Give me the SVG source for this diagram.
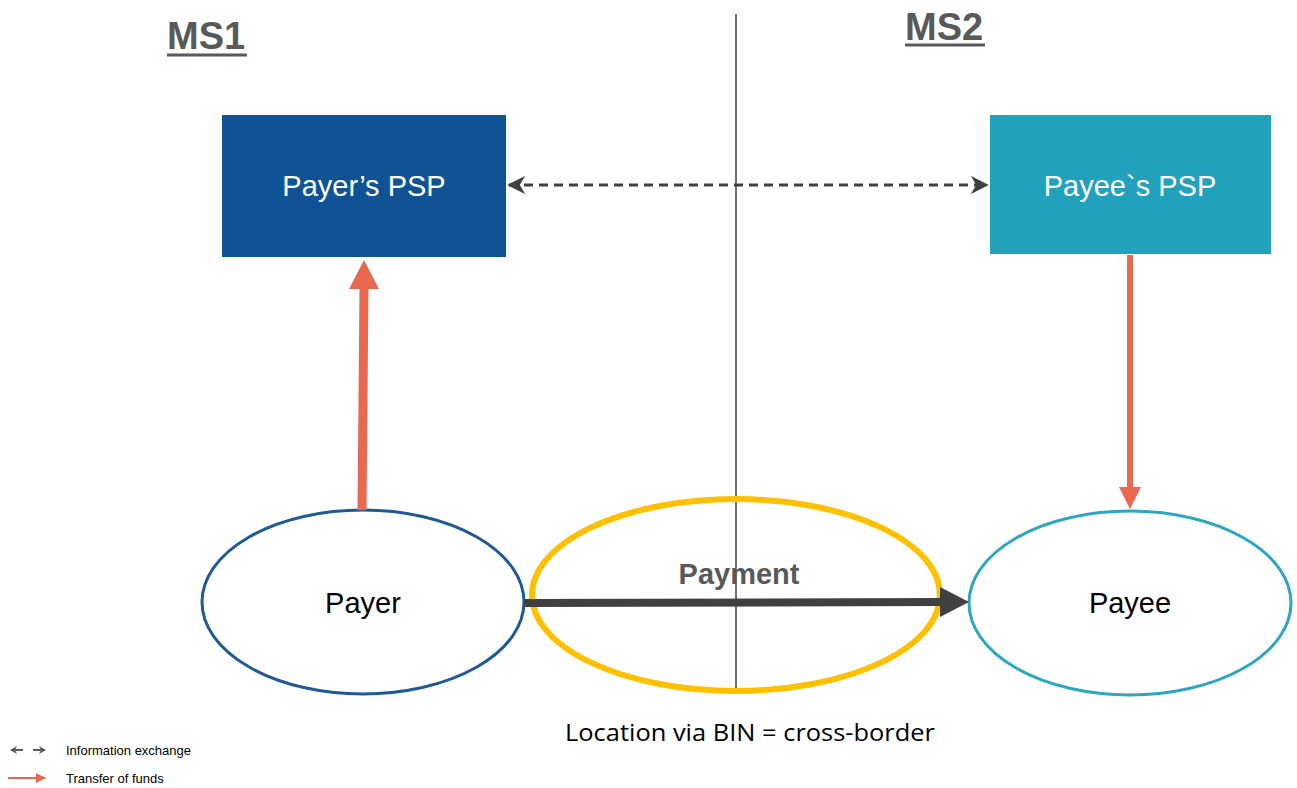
<svg xmlns="http://www.w3.org/2000/svg" width="1297" height="788" viewBox="0 0 1297 788">
<defs>
<style>
.ms{font-family:"Liberation Sans",Arial,sans-serif;font-weight:bold;font-size:38px;fill:#595959}
.box{font-family:"Liberation Sans",Arial,sans-serif;font-size:29px;fill:#ffffff;text-anchor:middle}
.el{font-family:"Liberation Sans",Arial,sans-serif;font-size:29px;fill:#000000;text-anchor:middle}
.leg{font-family:"Liberation Sans",Arial,sans-serif;font-size:13px;fill:#000000}
</style>
<marker id="dashHead" viewBox="0 0 10 10" refX="9" refY="5" markerWidth="6" markerHeight="6" orient="auto-start-reverse" markerUnits="strokeWidth">
<path d="M0,0 L10,5 L0,10 L3,5 Z" fill="#404040"/>
</marker>
<marker id="redLeg" viewBox="0 0 10 10" refX="9" refY="5" markerWidth="5" markerHeight="5" orient="auto" markerUnits="strokeWidth">
<path d="M0,0 L10,5 L0,10 Z" fill="#e8694f"/>
</marker>
</defs>
<rect width="1297" height="788" fill="#ffffff"/>

<g id="labels-ms">
<text class="ms" x="167" y="49">MS1</text>
<line x1="167" y1="55" x2="247" y2="55" stroke="#595959" stroke-width="3"/>
<text class="ms" x="905" y="40">MS2</text>
<line x1="905" y1="45" x2="985" y2="45" stroke="#595959" stroke-width="3"/>
</g>

<g id="border-line">
<line x1="736" y1="14" x2="736" y2="690" stroke="#404040" stroke-width="1.5"/>
</g>

<g id="payment">
<ellipse cx="736" cy="595" rx="204" ry="96" fill="none" stroke="#ffc000" stroke-width="6"/>
<text x="739" y="584" font-family="Liberation Sans,Arial,sans-serif" font-weight="bold" font-size="29" fill="#595959" text-anchor="middle">Payment</text>
</g>

<g id="payers-psp">
<rect x="222" y="115" width="284" height="142" fill="#0f5394"/>
<text class="box" x="364" y="196">Payer’s PSP</text>
</g>

<g id="payees-psp">
<rect x="990" y="115" width="281" height="139" fill="#21a1bb"/>
<text class="box" x="1130" y="196">Payee`s PSP</text>
</g>

<g id="payer">
<ellipse cx="363" cy="602" rx="161" ry="92" fill="none" stroke="#1f5a96" stroke-width="3"/>
<text class="el" x="363" y="613">Payer</text>
</g>

<g id="payee">
<ellipse cx="1130" cy="603" rx="161" ry="92" fill="none" stroke="#2ea6c0" stroke-width="3"/>
<text class="el" x="1130" y="613">Payee</text>
</g>

<g id="connectors">
<line x1="509" y1="185" x2="987" y2="185" stroke="#404040" stroke-width="3" stroke-dasharray="9,6" marker-start="url(#dashHead)" marker-end="url(#dashHead)"/>
<line x1="362" y1="510" x2="364" y2="288" stroke="#e8694f" stroke-width="9"/>
<polygon points="364,260 379,289 349,289" fill="#e8694f"/>
<line x1="1130" y1="255" x2="1130" y2="488" stroke="#e8694f" stroke-width="6"/>
<polygon points="1130,509 1119,487 1141,487" fill="#e8694f"/>
<line x1="524" y1="603" x2="942" y2="602" stroke="#404040" stroke-width="8"/>
<polygon points="969,602 940,587 940,617" fill="#404040"/>
</g>

<text x="750" y="741" font-family="Open Sans,Lato,sans-serif" font-size="23" fill="#000000" text-anchor="middle" textLength="370" lengthAdjust="spacingAndGlyphs">Location via BIN = cross-border</text>

<g id="legend">
<line x1="14" y1="750" x2="23" y2="750" stroke="#595959" stroke-width="2"/>
<polygon points="10,750 17,746 15,750 17,754" fill="#595959"/>
<line x1="33" y1="750" x2="42" y2="750" stroke="#595959" stroke-width="2"/>
<polygon points="46,750 39,746 41,750 39,754" fill="#595959"/>
<text class="leg" x="66" y="755">Information exchange</text>
<line x1="8" y1="778" x2="45" y2="778" stroke="#e8694f" stroke-width="2" marker-end="url(#redLeg)"/>
<text class="leg" x="66" y="783">Transfer of funds</text>
</g>
</svg>
